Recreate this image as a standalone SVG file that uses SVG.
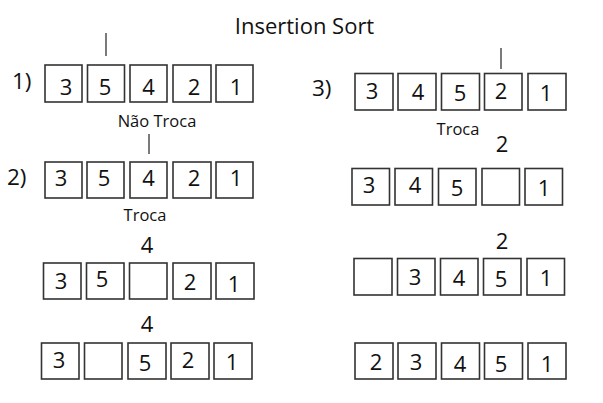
<svg xmlns="http://www.w3.org/2000/svg" width="603" height="403" viewBox="0 0 603 403">
<style>
.b{fill:#fff;stroke:#333;stroke-width:1.6}
.d{font-family:"Open Sans","Liberation Sans",sans-serif;font-size:22px;fill:#111;text-anchor:middle}
.l{font-family:"Open Sans","Liberation Sans",sans-serif;font-size:22.5px;fill:#111}
.t{font-family:"Open Sans","Liberation Sans",sans-serif;font-size:16.5px;fill:#111;text-anchor:middle}
.k{stroke:#222;stroke-width:1.2;fill:none}
</style>
<rect width="603" height="403" fill="#fff"/>
<text x="304.5" y="34" font-family="'Open Sans','Liberation Sans',sans-serif" font-size="22" fill="#111" text-anchor="middle">Insertion Sort</text>

<text class="l" x="12" y="89">1)</text>
<text class="l" x="7" y="185">2)</text>
<text class="l" x="312" y="96">3)</text>

<text class="t" x="157" y="127">Não Troca</text>
<text class="t" x="145" y="221">Troca</text>
<text class="t" x="458" y="135">Troca</text>
<text class="d" x="147" y="253">4</text>
<text class="d" x="147" y="332">4</text>
<text class="d" x="502" y="152">2</text>
<text class="d" x="502" y="249">2</text>

<g id="connectors">
<line class="k" x1="106" y1="33" x2="106" y2="56"/>
<line class="k" x1="149" y1="134" x2="149" y2="154"/>
<line class="k" x1="501" y1="48" x2="501" y2="69"/>
</g>

<g id="row1">
<g id="r1c1"><rect class="b" x="45" y="65" width="37" height="37"/><text class="d" x="66" y="95">3</text></g>
<g id="r1c2"><rect class="b" x="87.5" y="65" width="37" height="37"/><text class="d" x="105" y="95">5</text></g>
<g id="r1c3"><rect class="b" x="130" y="65" width="37" height="37"/><text class="d" x="148.5" y="95">4</text></g>
<g id="r1c4"><rect class="b" x="173" y="65" width="38" height="37"/><text class="d" x="194" y="95">2</text></g>
<g id="r1c5"><rect class="b" x="216" y="65" width="37" height="37"/><text class="d" x="236" y="95">1</text></g>
</g>

<g id="row2">
<g id="r2c1"><rect class="b" x="45" y="162" width="37" height="36"/><text class="d" x="61" y="186">3</text></g>
<g id="r2c2"><rect class="b" x="87" y="162" width="37" height="36"/><text class="d" x="104" y="186">5</text></g>
<g id="r2c3"><rect class="b" x="130" y="162" width="37" height="36"/><text class="d" x="148.5" y="186">4</text></g>
<g id="r2c4"><rect class="b" x="173" y="162" width="38" height="36"/><text class="d" x="194" y="186">2</text></g>
<g id="r2c5"><rect class="b" x="216" y="162" width="37" height="36"/><text class="d" x="236" y="186">1</text></g>
</g>

<g id="row3">
<g id="r3c1"><rect class="b" x="43.5" y="263" width="37.5" height="36"/><text class="d" x="61" y="289">3</text></g>
<g id="r3c2"><rect class="b" x="86.5" y="263" width="37.5" height="36"/><text class="d" x="102" y="287">5</text></g>
<g id="r3c3"><rect class="b" x="129.5" y="263" width="37.5" height="36"/></g>
<g id="r3c4"><rect class="b" x="173" y="263" width="38" height="36"/><text class="d" x="190" y="290">2</text></g>
<g id="r3c5"><rect class="b" x="216" y="263" width="38" height="36"/><text class="d" x="234" y="292">1</text></g>
</g>

<g id="row4">
<g id="r4c1"><rect class="b" x="41.5" y="343" width="37.5" height="36"/><text class="d" x="59" y="368">3</text></g>
<g id="r4c2"><rect class="b" x="84.5" y="343" width="37.5" height="36"/></g>
<g id="r4c3"><rect class="b" x="128" y="343" width="38" height="36"/><text class="d" x="145" y="371">5</text></g>
<g id="r4c4"><rect class="b" x="171" y="343" width="38" height="36"/><text class="d" x="188" y="368">2</text></g>
<g id="r4c5"><rect class="b" x="214" y="343" width="38" height="36"/><text class="d" x="232" y="370">1</text></g>
</g>

<g id="row5">
<g id="r5c1"><rect class="b" x="355" y="73.5" width="38" height="36.5"/><text class="d" x="372" y="99">3</text></g>
<g id="r5c2"><rect class="b" x="398" y="73.5" width="38" height="36.5"/><text class="d" x="418" y="100">4</text></g>
<g id="r5c3"><rect class="b" x="441.5" y="73.5" width="38" height="36.5"/><text class="d" x="460" y="101">5</text></g>
<g id="r5c4"><rect class="b" x="484.5" y="73.5" width="37.5" height="36.5"/><text class="d" x="501" y="99">2</text></g>
<g id="r5c5"><rect class="b" x="528" y="73.5" width="38" height="36.5"/><text class="d" x="546" y="101">1</text></g>
</g>

<g id="row6">
<g id="r6c1"><rect class="b" x="352" y="168.5" width="37.5" height="36.5"/><text class="d" x="369" y="193">3</text></g>
<g id="r6c2"><rect class="b" x="395" y="168.5" width="37.5" height="36.5"/><text class="d" x="415" y="193">4</text></g>
<g id="r6c3"><rect class="b" x="438.5" y="168.5" width="37.5" height="36.5"/><text class="d" x="457" y="196">5</text></g>
<g id="r6c4"><rect class="b" x="482" y="168.5" width="37.5" height="36.5"/></g>
<g id="r6c5"><rect class="b" x="525" y="168.5" width="37.5" height="36.5"/><text class="d" x="544" y="196">1</text></g>
</g>

<g id="row7">
<g id="r7c1"><rect class="b" x="354" y="258.5" width="38" height="36.5"/></g>
<g id="r7c2"><rect class="b" x="397.5" y="258.5" width="37.5" height="36.5"/><text class="d" x="415" y="285">3</text></g>
<g id="r7c3"><rect class="b" x="440.5" y="258.5" width="37.5" height="36.5"/><text class="d" x="459" y="286">4</text></g>
<g id="r7c4"><rect class="b" x="483.5" y="258.5" width="37.5" height="36.5"/><text class="d" x="501" y="287">5</text></g>
<g id="r7c5"><rect class="b" x="527" y="258.5" width="37.5" height="36.5"/><text class="d" x="546" y="286">1</text></g>
</g>

<g id="row8">
<g id="r8c1"><rect class="b" x="355" y="343" width="38" height="36"/><text class="d" x="376" y="370">2</text></g>
<g id="r8c2"><rect class="b" x="398" y="343" width="38" height="36"/><text class="d" x="416" y="370">3</text></g>
<g id="r8c3"><rect class="b" x="441.5" y="343" width="38" height="36"/><text class="d" x="460" y="372">4</text></g>
<g id="r8c4"><rect class="b" x="484.5" y="343" width="38" height="36"/><text class="d" x="501" y="372">5</text></g>
<g id="r8c5"><rect class="b" x="528" y="343" width="38" height="36"/><text class="d" x="547" y="372">1</text></g>
</g>
</svg>
